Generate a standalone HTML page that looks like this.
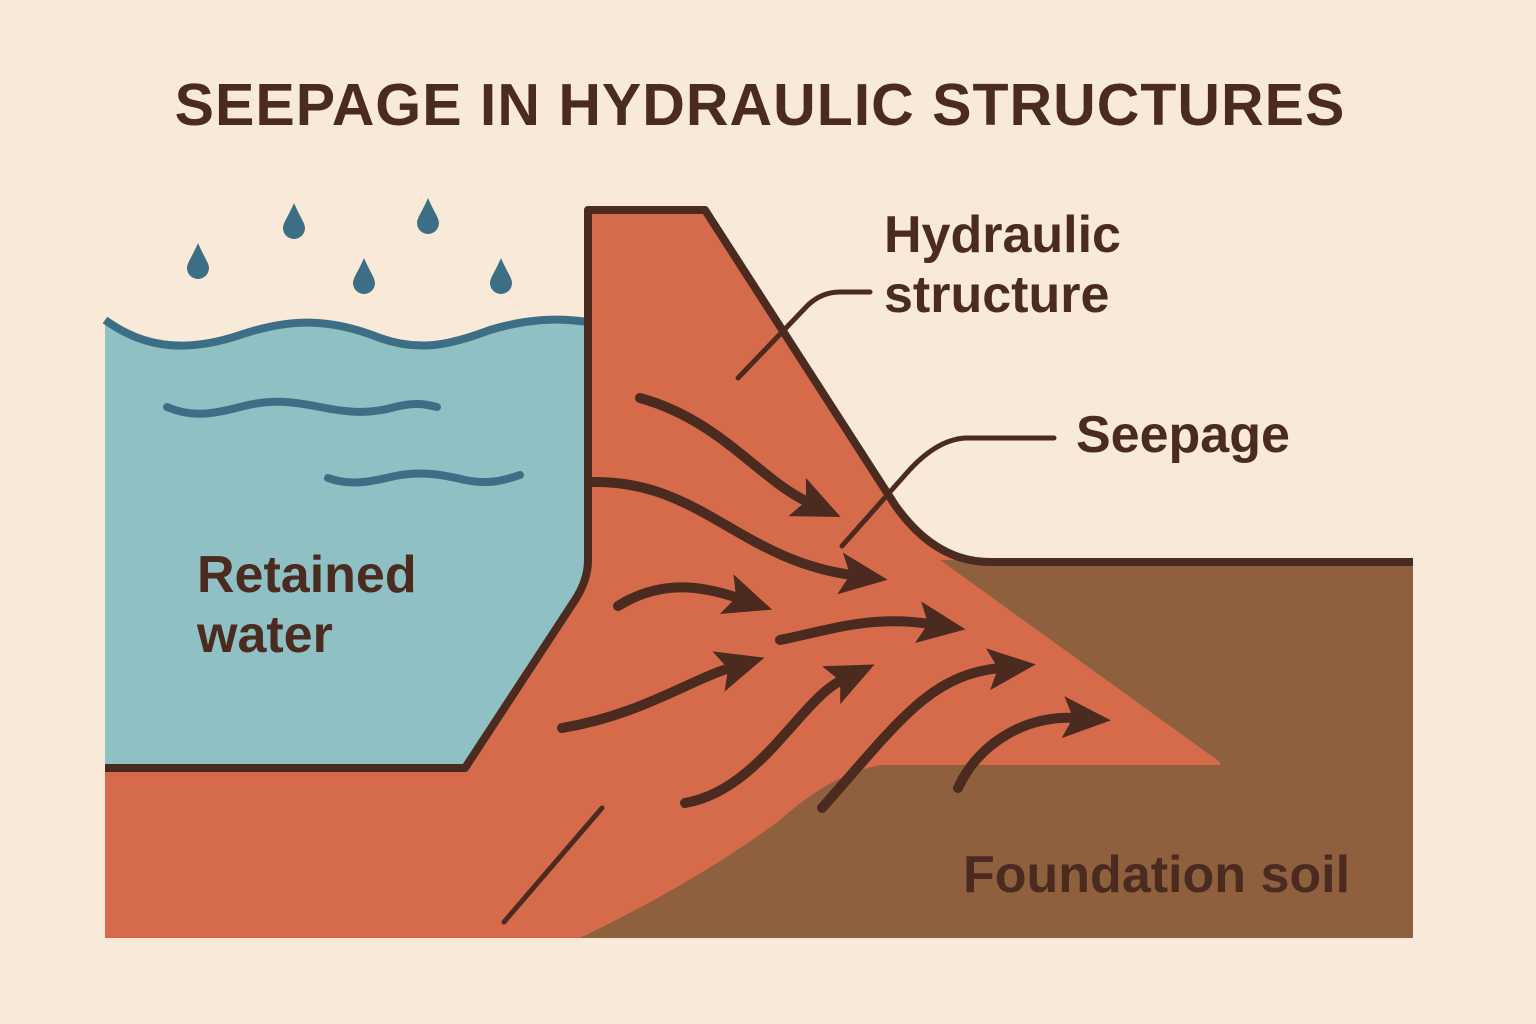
<!DOCTYPE html>
<html><head><meta charset="utf-8"><style>
html,body{margin:0;padding:0;background:#f8e9d8;}
svg{display:block}
</style></head><body>
<svg width="1536" height="1024" viewBox="0 0 1536 1024" xmlns="http://www.w3.org/2000/svg">
<defs>
<marker id="ah" markerUnits="userSpaceOnUse" markerWidth="50" markerHeight="50" viewBox="0 0 50 50" refX="12" refY="25" orient="auto">
<path d="M0,4 L48,25 L0,46 L10,25 Z" fill="#4b2a1f"/>
</marker>
</defs>
<rect width="1536" height="1024" fill="#f8e9d8"/>
<text x="760" y="125" text-anchor="middle" font-family="Liberation Sans, sans-serif" font-weight="bold" font-size="59" fill="#4b2a1f" letter-spacing="1">SEEPAGE IN HYDRAULIC STRUCTURES</text>
<!-- water -->
<path d="M105,320 C140,345 180,355 240,335 C290,318 330,318 380,338 C420,352 450,345 490,330 C530,318 560,318 588,322 L588,560 Q588,580 575,600 L465,768 L105,768 Z" fill="#8fc1c4"/>
<path d="M105,320 C140,345 180,355 240,335 C290,318 330,318 380,338 C420,352 450,345 490,330 C530,318 560,318 588,322" fill="none" stroke="#3c6f86" stroke-width="8"/>
<path d="M167,407 C190,417 210,415 240,407 C270,399 290,401 320,407 C350,413 370,414 395,407 C415,402 425,404 437,407" fill="none" stroke="#3c6f86" stroke-width="8" stroke-linecap="round"/>
<path d="M328,478 C350,486 370,482 395,476 C420,471 440,474 465,480 C490,485 505,480 520,475" fill="none" stroke="#3c6f86" stroke-width="8" stroke-linecap="round"/>
<!-- drops -->
<g fill="#3c6f86">
<path d="M198,243 C192,257 187,263 187,268 A11,11 0 0 0 209,268 C209,263 204,257 198,243Z"/>
<path d="M294,203 C288,217 283,223 283,228 A11,11 0 0 0 305,228 C305,223 300,217 294,203Z"/>
<path d="M428,198 C422,212 417,218 417,223 A11,11 0 0 0 439,223 C439,218 434,212 428,198Z"/>
<path d="M364,258 C358,272 353,278 353,283 A11,11 0 0 0 375,283 C375,278 370,272 364,258Z"/>
<path d="M501,258 C495,272 490,278 490,283 A11,11 0 0 0 512,283 C512,278 507,272 501,258Z"/>
</g>
<!-- dam / orange -->
<path d="M105,768 L465,768 L575,600 Q588,580 588,560 L588,210 L705,210 L895,505 Q935,562 990,562 L1413,562 L1413,938 L105,938 Z" fill="#d56b4b"/>
<!-- brown soil -->
<path d="M940,560 L1413,562 L1413,938 L1220,938 L1220,762 Z" fill="#8f603d"/>
<path d="M580,938 Q700,880 780,820 Q830,775 880,765 L1413,765 L1413,938 Z" fill="#8f603d"/>
<!-- outlines -->
<path d="M105,768 L465,768 L575,600 Q588,580 588,560 L588,210 L705,210 L895,505 Q935,562 990,562 L1413,562" fill="none" stroke="#4b2a1f" stroke-width="8" stroke-linejoin="round"/>
<!-- arrows -->
<g fill="none" stroke="#4b2a1f" stroke-width="10" stroke-linecap="round" marker-end="url(#ah)">
<path d="M640,398 C720,420 760,480 808,502"/>
<path d="M592,482 C700,480 740,560 852,575"/>
<path d="M618,606 C660,580 700,585 738,598"/>
<path d="M562,728 C640,715 690,680 730,668"/>
<path d="M780,640 C830,630 870,615 930,624"/>
<path d="M685,803 C760,790 800,700 842,680"/>
<path d="M822,808 C900,720 930,675 1000,668"/>
<path d="M958,788 C980,740 1030,715 1075,718"/>
</g>
<!-- leader lines -->
<g fill="none" stroke="#4b2a1f" stroke-width="5" stroke-linecap="round">
<path d="M738,378 L808,305 Q822,292 840,292 L870,292"/>
<path d="M842,546 L905,475 Q935,440 965,438 L1054,438"/>
<path d="M504,922 L602,808"/>
</g>
<g font-family="Liberation Sans, sans-serif" font-weight="bold" fill="#4b2a1f">
<text x="884" y="252" font-size="52">Hydraulic</text>
<text x="884" y="312" font-size="52">structure</text>
<text x="1076" y="452" font-size="52">Seepage</text>
<text x="197" y="592" font-size="52">Retained</text>
<text x="197" y="652" font-size="52">water</text>
<text x="963" y="892" font-size="52">Foundation soil</text>
</g>
</svg>
</body></html>
